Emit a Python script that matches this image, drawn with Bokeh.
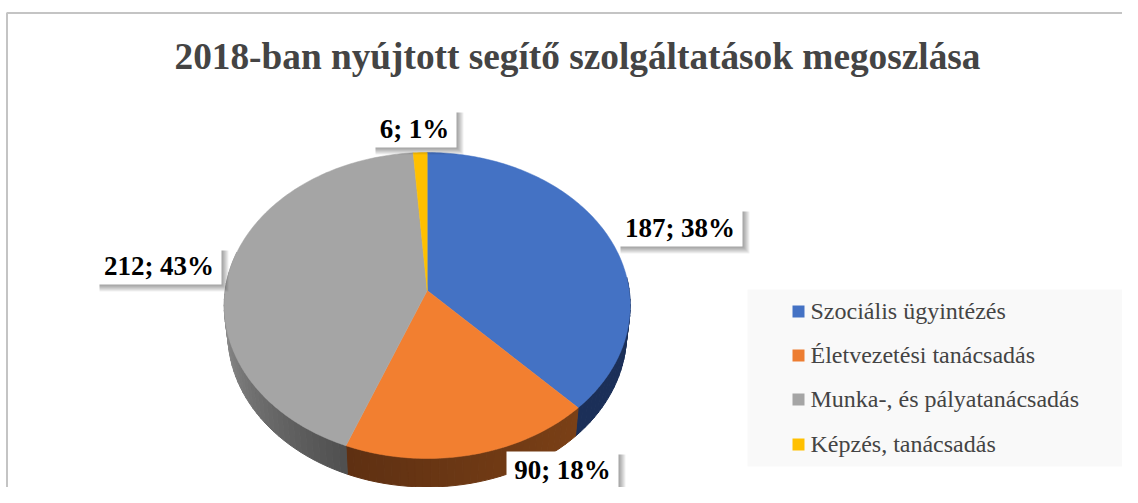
import math
from bokeh.plotting import figure
from bokeh.models import Range1d
from bokeh.core.properties import value
from bokeh.embed import file_html
from bokeh.resources import INLINE

# --- data ---
TITLE = "2018-ban nyújtott segítő szolgáltatások megoszlása"
categories = ["Szociális ügyintézés", "Életvezetési tanácsadás", "Munka-, és pályatanácsadás", "Képzés, tanácsadás"]
counts = [187, 90, 212, 6]
percents = [38, 18, 43, 1]

# --- style ---
top_colors = ["#4472c4", "#f27f30", "#a5a5a5", "#ffc000"]
legend_colors = ["#4472c4", "#ed7d31", "#a5a5a5", "#ffc000"]
side_from = ["#1b2f58", "#7a4016", "#505050", "#7f6000"]
side_to = ["#1b2f58", "#5f3012", "#a0a0a0", "#7f6000"]
FONT = value("Liberation Serif")

# --- layout: the canvas is in picture pixels ---
W, H = 1122, 487
p = figure(width=W, height=H, x_range=Range1d(0, W), y_range=Range1d(H, 0),
           toolbar_location=None, output_backend="svg", min_border=0,
           outline_line_color=None, background_fill_color="white", border_fill_color="white")
p.xaxis.visible = False
p.yaxis.visible = False
p.grid.visible = False

# chart frame
p.line([6.5, 6.5, W], [H, 12.5, 12.5], line_color="#c4c4c4", line_width=2)

# perspective projection of the pie disc
CX, CY, R, A, C = 426.7, 290.0, 202.0, -123.1, 0.098
DEPTH, SHRINK = 28.5, 0.982


def project(theta, scale=1.0, dy=0.0):
    u, v = math.sin(theta), math.cos(theta)
    d = 1 + C * v
    return CX + scale * R * u / d, (A * v + CY) / d + dy


def mix(c1, c2, t):
    a = [int(c1[i:i + 2], 16) for i in (1, 3, 5)]
    b = [int(c2[i:i + 2], 16) for i in (1, 3, 5)]
    return "#%02x%02x%02x" % tuple(round(x + (y - x) * t) for x, y in zip(a, b))


total = sum(counts)
starts = []
acc = 0
for c in counts:
    starts.append(acc / total * 2 * math.pi)
    acc += c
ends = starts[1:] + [2 * math.pi]

# side wall, drawn as shaded strips
xs, ys, cols = [], [], []
STEP = math.radians(2)
for i, (a0, a1) in enumerate(zip(starts, ends)):
    lo, hi = max(a0, math.radians(85)), min(a1, math.radians(285))
    if hi <= lo:
        continue
    n = max(1, int((hi - lo) / STEP))
    for k in range(n):
        t0 = lo + (hi - lo) * k / n
        t1 = lo + (hi - lo) * (k + 1) / n
        x0, y0 = project(t0)
        x1, y1 = project(t1)
        x2, y2 = project(t1, SHRINK, DEPTH)
        x3, y3 = project(t0, SHRINK, DEPTH)
        xs.append([x0, x1, x2, x3])
        ys.append([y0, y1, y2, y3])
        cols.append(mix(side_from[i], side_to[i], k / max(1, n - 1)))
p.patches(xs, ys, fill_color=cols, line_color=cols, line_width=1)

# top faces
fx, fy = [], []
for a0, a1 in zip(starts, ends):
    n = max(4, int((a1 - a0) / math.radians(1)))
    pts = [project(a0 + (a1 - a0) * k / n) for k in range(n + 1)]
    fx.append([CX] + [q[0] for q in pts])
    fy.append([CY] + [q[1] for q in pts])
p.patches(fx, fy, fill_color=top_colors, line_color=top_colors, line_width=0.5)

# data labels: white boxes with a soft shadow
label_boxes = [(617, 208, 742, 246), (506, 451, 618, 487), (96, 247, 221, 284), (372, 109, 456, 147)]
label_texts = [f"{c}; {q}%" for c, q in zip(counts, percents)]
for off in range(1, 8):
    p.quad(left=[b[0] + 3 for b in label_boxes], right=[b[2] + off for b in label_boxes],
           top=[b[1] + 3 for b in label_boxes], bottom=[b[3] + off for b in label_boxes],
           fill_color="#000000", fill_alpha=0.06, line_color=None)
p.quad(left=[b[0] for b in label_boxes], right=[b[2] for b in label_boxes],
       top=[b[1] for b in label_boxes], bottom=[b[3] for b in label_boxes],
       fill_color="white", line_color=None)
p.text([(b[0] + b[2]) / 2 for b in label_boxes], [(b[1] + b[3]) / 2 for b in label_boxes],
       text=label_texts, text_font=FONT, text_font_style="bold", text_font_size="27px",
       text_color="#000000", text_align="center", text_baseline="middle")

# title
p.text([577], [56], text=[TITLE], text_font=FONT, text_font_style="bold", text_font_size="37.3px",
       text_color="#444444", text_align="center", text_baseline="middle")

# legend
p.quad(left=[747], right=[W], top=[289], bottom=[466], fill_color="#f9f9f9", line_color=None)
leg_y = [311, 355, 399, 444]
p.quad(left=[792] * 4, right=[804] * 4, top=[y - 6 for y in leg_y], bottom=[y + 6 for y in leg_y],
       fill_color=legend_colors, line_color=None)
p.text([810] * 4, [y - 1 for y in leg_y], text=categories, text_font=FONT, text_font_size="24px",
       text_color="#444444", text_align="left", text_baseline="middle")

open("out.html", "w").write(file_html(p, INLINE))
